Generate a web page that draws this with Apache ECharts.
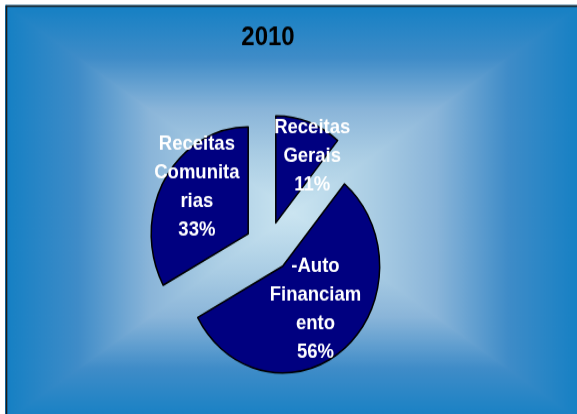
<!DOCTYPE html>
<html><head><meta charset="utf-8">
<script src="https://cdn.jsdelivr.net/npm/echarts@6/dist/echarts.min.js"></script>
<style>
html,body{margin:0;padding:0;background:#fff;overflow:hidden;width:577px;height:414px}
#c{width:577px;height:376px;transform:scaleY(1.101);transform-origin:0 0}
</style></head>
<body><div id="c"></div>
<script>
// ---- data ----
const chartTitle = '2010';
const categories = ['Receitas\nGerais', '-Auto\nFinanciam\nento', 'Receitas\nComunita\nrias'];
const values = [11, 56, 33];

// ---- styling helpers (not data) ----
const labelShift = [[19, -12], [0, 0], [-7, -16]];
const edge = '#1580C4';
const stops = [
  {offset: 0, color: edge},
  {offset: 0.25, color: '#3F8CC8'},
  {offset: 0.5, color: '#8AB5D9'},
  {offset: 0.72, color: '#AACDE4'},
  {offset: 1, color: '#CBE5F1'}
];
const fx0 = 6, fx1 = 580, fy0 = 5.5, fy1 = 382;
const gcx = (fx0 + fx1) / 2, gcy = (fy0 + fy1) / 2;
function grad(x, y, x2, y2) {
  return {type: 'linear', global: true, x: x, y: y, x2: x2, y2: y2, colorStops: stops};
}
function tri(points, g) {
  return {type: 'polygon', z: -9, silent: true, shape: {points: points},
          style: {fill: g, stroke: g, lineWidth: 2, lineJoin: 'round'}};
}

const chart = echarts.init(document.getElementById('c'), null, {renderer: 'canvas'});
chart.setOption({
  animation: false,
  backgroundColor: '#fff',
  title: {
    text: chartTitle, left: 268, top: 22, padding: 0, textAlign: 'center',
    textStyle: {fontFamily: 'Liberation Sans, Arial, sans-serif', fontWeight: 'bold', fontSize: 24, color: '#000'}
  },
  graphic: [
    {type: 'rect', z: -10, silent: true, shape: {x: fx0, y: fy0, width: fx1 - fx0, height: fy1 - fy0}, style: {fill: edge}},
    tri([[fx0, fy0], [fx1, fy0], [gcx, gcy]], grad(0, fy0, 0, gcy)),
    tri([[fx0, fy1], [fx1, fy1], [gcx, gcy]], grad(0, fy1, 0, gcy)),
    tri([[fx0, fy0], [fx0, fy1], [gcx, gcy]], grad(fx0, 0, gcx, 0)),
    tri([[fx1, fy0], [fx1, fy1], [gcx, gcy]], grad(fx1, 0, gcx, 0)),
    {type: 'rect', z: -8, silent: true, shape: {x: 6.5, y: 5.5, width: 600, height: 400}, style: {fill: 'none', stroke: '#1a1a1a', lineWidth: 1.6}}
  ],
  series: [{
    type: 'pie',
    center: [268, 224],
    radius: 97,
    startAngle: 90,
    clockwise: true,
    selectedMode: 'multiple',
    selectedOffset: 23,
    avoidLabelOverlap: false,
    emphasis: {disabled: true},
    itemStyle: {color: '#000080', borderColor: '#000', borderWidth: 1.5},
    label: {
      show: true, position: 'inside', color: '#fff',
      fontFamily: 'Liberation Sans, Arial, sans-serif', fontWeight: 'bold',
      fontSize: 18.5, lineHeight: 26, align: 'center',
      formatter: '{b}\n{d}%'
    },
    percentPrecision: 0,
    labelLine: {show: false},
    labelLayout: function (p) {
      const s = labelShift[p.dataIndex];
      return {dx: s[0], dy: s[1]};
    },
    data: categories.map(function (c, i) { return {name: c, value: values[i], selected: true}; })
  }]
});
</script>
</body></html>
